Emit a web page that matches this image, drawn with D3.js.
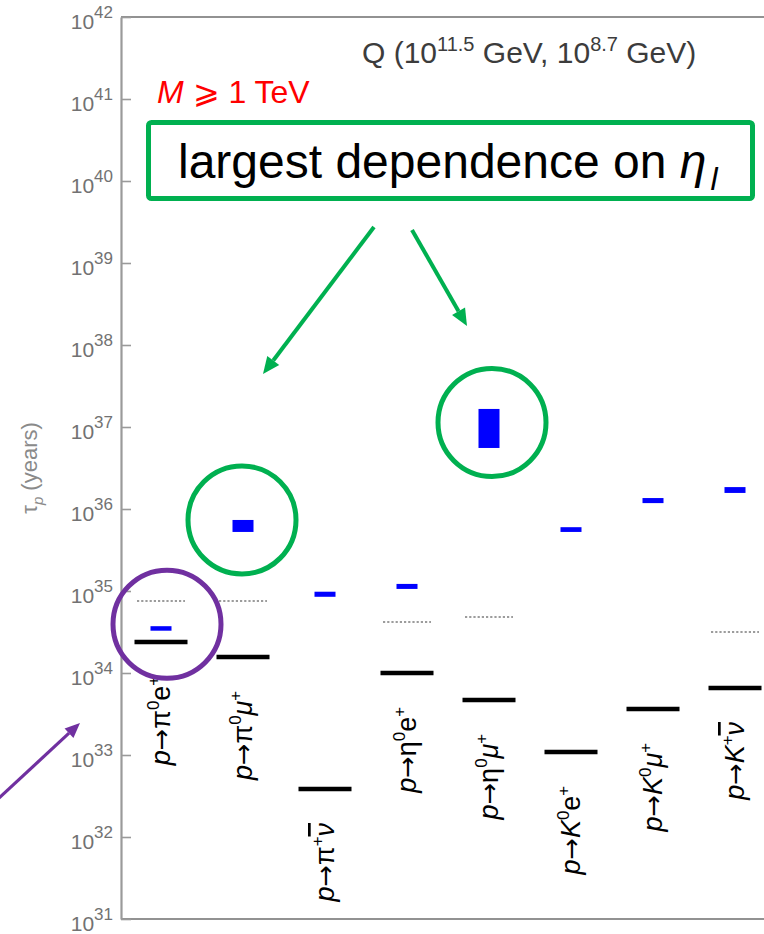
<!DOCTYPE html>
<html><head><meta charset="utf-8">
<script src="https://cdn.jsdelivr.net/npm/d3@7"></script>
<style>
html,body{margin:0;padding:0;background:#fff;}
svg{display:block;font-family:"Liberation Sans",Arial,Helvetica,sans-serif;}
</style></head><body>
<svg id="chart" width="764" height="934"></svg>
<script>
// Decay channels. Markup: "^x" = superscript x, "~x" = overlined x.
const channels = ["p→π^0e^+", "p→π^0μ^+", "p→π^+~ν", "p→η^0e^+", "p→η^0μ^+", "p→K^0e^+", "p→K^0μ^+", "p→K^+~ν"];
// Reference lifetime per channel (years), black bars
const lifetimeCentral = [2.39e34, 1.57e34, 3.85e32, 1.0e34, 4.69e33, 1.09e33, 3.64e33, 6.56e33];
// Dotted level per channel (years), null where not drawn
const lifetimeDotted = [7.55e34, 7.55e34, null, 4.19e34, 4.82e34, null, null, 3.16e34];
// Blue band, lower and upper lifetime (years)
const bandLow  = [3.3e34, 5.25e35, 8.5e34, 1.06e35, 5.55e36, 5.25e35, 1.18e36, 1.57e36];
const bandHigh = [3.7e34, 7.35e35, 9.8e34, 1.22e35, 1.66e37, 6.0e35, 1.36e36, 1.85e36];
// Decades shown on the axis
const tickExponents = [31, 32, 33, 34, 35, 36, 37, 38, 39, 40, 41, 42];

const svg = d3.select("#chart");
const plot = {left: 120, right: 776, top: 17, bottom: 919};

const y = d3.scaleLog().domain([1e31, 1e42]).range([plot.bottom, plot.top]);
const x = d3.scaleBand().domain(channels).range([plot.left, plot.right]);
const cx = c => x(c) + x.bandwidth() / 2;

const GREEN = "#00b050", PURPLE = "#7030a0", AXIS = "#9a9a9a", LABEL = "#727272";

// frame: top and bottom lines
svg.append("line").attr("x1", plot.left + 1).attr("x2", plot.right).attr("y1", plot.top).attr("y2", plot.top)
  .attr("stroke", "#6e6e6e").attr("stroke-width", 1.6);
svg.append("line").attr("x1", plot.left + 1).attr("x2", plot.right).attr("y1", plot.bottom).attr("y2", plot.bottom)
  .attr("stroke", "#6e6e6e").attr("stroke-width", 1.6);

// left axis with inward ticks
const yAxis = d3.axisLeft(y).tickValues(tickExponents.map(e => Math.pow(10, e)))
  .tickSizeInner(-10).tickSizeOuter(0).tickFormat("");
const gAxis = svg.append("g").attr("transform", `translate(${plot.left + 1},0)`).call(yAxis);
gAxis.select(".domain").attr("stroke", AXIS).attr("stroke-width", 2.2);
gAxis.selectAll(".tick line").attr("stroke", AXIS).attr("stroke-width", 1.6);

// tick labels as 10^n
const tl = svg.append("g").attr("fill", LABEL);
tickExponents.forEach(e => {
  const t = tl.append("text").attr("x", 113).attr("y", y(Math.pow(10, e)) + 12)
    .attr("text-anchor", "end").attr("font-size", 21);
  t.append("tspan").text("10");
  t.append("tspan").attr("dy", -11).attr("font-size", 17).text(e);
});

// axis title
const at = svg.append("text").attr("transform", `translate(37,468) rotate(-90)`)
  .attr("text-anchor", "middle").attr("fill", "#8a8a8a").attr("font-size", 22);
at.append("tspan").text("τ");
at.append("tspan").attr("dy", 6).attr("font-size", 15).attr("font-style", "italic").text("p");
at.append("tspan").attr("dy", -6).text(" (years)");

// dotted levels
svg.append("g").selectAll("line")
  .data(channels.map((c, i) => ({c, v: lifetimeDotted[i]})).filter(d => d.v != null))
  .join("line")
  .attr("x1", d => cx(d.c) - 24).attr("x2", d => cx(d.c) + 24)
  .attr("y1", d => y(d.v)).attr("y2", d => y(d.v))
  .attr("stroke", "#9c9c9c").attr("stroke-width", 2).attr("stroke-dasharray", "2.2,2");

// blue bands
svg.append("g").selectAll("rect")
  .data(channels.map((c, i) => ({c, lo: bandLow[i], hi: bandHigh[i]})))
  .join("rect")
  .attr("x", d => cx(d.c) - 10.5).attr("width", 21)
  .attr("y", d => {
    const h = y(d.lo) - y(d.hi);
    return h < 4.5 ? (y(d.lo) + y(d.hi)) / 2 - 2.25 : y(d.hi);
  })
  .attr("height", d => Math.max(4.5, y(d.lo) - y(d.hi)))
  .attr("fill", "#0000ff");

// black bars
svg.append("g").selectAll("line")
  .data(channels.map((c, i) => ({c, v: lifetimeCentral[i]})))
  .join("line")
  .attr("x1", d => cx(d.c) - 26.5).attr("x2", d => cx(d.c) + 26.5)
  .attr("y1", d => y(d.v)).attr("y2", d => y(d.v))
  .attr("stroke", "#000").attr("stroke-width", 4.5);

// channel labels, rotated, below each black bar
const italicChars = new Set(["p", "K", "μ", "ν"]);
function writeLabel(textSel, s, fs) {
  let shift = 0; // current vertical offset of baseline
  for (let i = 0; i < s.length; i++) {
    let ch = s[i], sup = false, over = false;
    if (ch === "^") { sup = true; ch = s[++i]; }
    if (ch === "~") { over = true; ch = s[++i]; }
    const target = sup ? -0.42 * fs : 0;
    const ts = textSel.append("tspan").attr("dy", target - shift).text(ch);
    shift = target;
    if (sup) ts.attr("font-size", fs * 0.62);
    if (ch === "→") ts.attr("font-family", "DejaVu Sans").attr("font-size", fs * 0.95);
    if (italicChars.has(ch)) ts.attr("font-style", "italic");
    if (over) ts.style("text-decoration", "overline");
  }
}
const lab = svg.append("g").attr("fill", "#000");
channels.forEach((c, i) => {
  const t = lab.append("text")
    .attr("transform", `translate(${cx(c) + 9},${y(lifetimeCentral[i]) + 34}) rotate(-90)`)
    .attr("text-anchor", "end").attr("font-size", 27);
  writeLabel(t, c, 27);
});

// header text
const q = svg.append("text").attr("x", 362).attr("y", 63).attr("fill", "#3c3c3c").attr("font-size", 30);
q.append("tspan").text("Q (10");
q.append("tspan").attr("dy", -12).attr("font-size", 20).text("11.5");
q.append("tspan").attr("dy", 12).text(" GeV, 10");
q.append("tspan").attr("dy", -12).attr("font-size", 20).text("8.7");
q.append("tspan").attr("dy", 12).text(" GeV)");

const m = svg.append("text").attr("x", 157).attr("y", 103).attr("fill", "#ff0000").attr("font-size", 32);
m.append("tspan").attr("font-style", "italic").text("M");
m.append("tspan").text(" ⩾ 1 TeV");

// annotation box
svg.append("rect").attr("x", 148.5).attr("y", 122.5).attr("width", 604).attr("height", 76)
  .attr("rx", 3).attr("fill", "#fff").attr("stroke", GREEN).attr("stroke-width", 5);
const bt = svg.append("text").attr("x", 178).attr("y", 178).attr("fill", "#000").attr("font-size", 48);
bt.append("tspan").text("largest dependence on ");
bt.append("tspan").attr("font-style", "italic").text("η");
bt.append("tspan").attr("dy", 12).attr("dx", 4).attr("font-size", 32).attr("font-style", "italic").text("l");

// arrows
function arrow(x1, y1, x2, y2, color, w, hl, hw) {
  const a = Math.atan2(y2 - y1, x2 - x1);
  const bx = x2 - hl * Math.cos(a), by = y2 - hl * Math.sin(a);
  svg.append("line").attr("x1", x1).attr("y1", y1).attr("x2", bx).attr("y2", by)
    .attr("stroke", color).attr("stroke-width", w);
  const px = -Math.sin(a) * hw / 2, py = Math.cos(a) * hw / 2;
  svg.append("path").attr("d", `M${x2},${y2}L${bx + px},${by + py}L${bx - px},${by - py}Z`).attr("fill", color);
}
arrow(374, 227, 263, 374, GREEN, 4, 17, 15);
arrow(412, 230, 467, 326, GREEN, 4, 17, 15);
arrow(-2, 799, 80, 723, PURPLE, 3.2, 15, 13);

// highlight circles around selected channels
function ring(c, v, dx, dy, color) {
  svg.append("circle").attr("cx", cx(c) + dx).attr("cy", y(v) + dy).attr("r", 54)
    .attr("fill", "none").attr("stroke", color).attr("stroke-width", 5);
}
ring(channels[1], Math.sqrt(bandLow[1] * bandHigh[1]), -1, -6, GREEN);
ring(channels[4], Math.sqrt(bandLow[4] * bandHigh[4]), 3, -6, GREEN);
ring(channels[0], Math.sqrt(bandLow[0] * lifetimeCentral[0]), 6, -12, PURPLE);
</script>
</body></html>
